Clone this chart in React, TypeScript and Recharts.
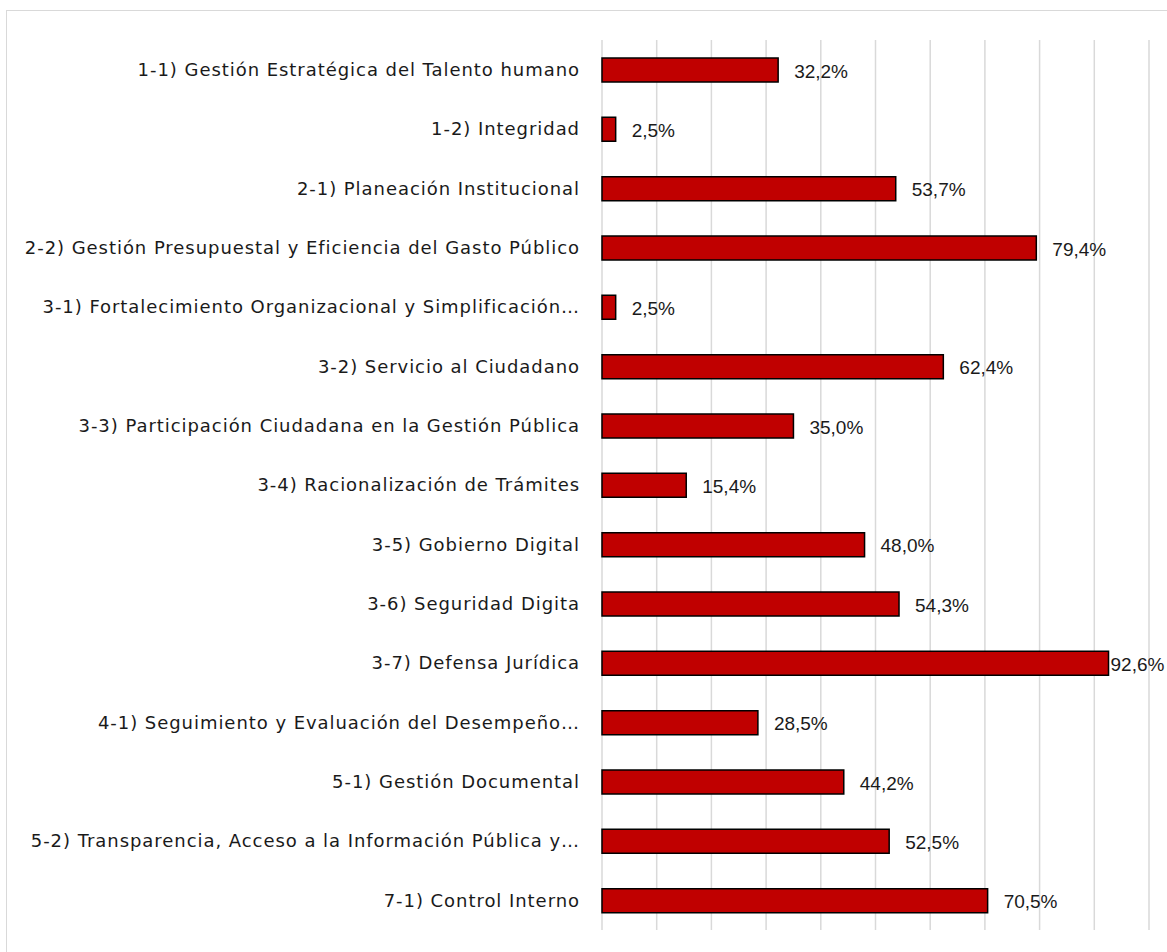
import React from 'react';
import { BarChart, Bar, XAxis, YAxis, CartesianGrid, LabelList } from 'recharts';

const categories = [
  '1-1) Gestión Estratégica del Talento humano',
  '1-2) Integridad',
  '2-1) Planeación Institucional',
  '2-2) Gestión Presupuestal y Eficiencia del Gasto Público',
  '3-1) Fortalecimiento Organizacional y Simplificación…',
  '3-2) Servicio al Ciudadano',
  '3-3) Participación Ciudadana en la Gestión Pública',
  '3-4) Racionalización de Trámites',
  '3-5) Gobierno Digital',
  '3-6) Seguridad Digita',
  '3-7) Defensa Jurídica',
  '4-1) Seguimiento y Evaluación del Desempeño…',
  '5-1) Gestión Documental',
  '5-2) Transparencia, Acceso a la Información Pública y…',
  '7-1) Control Interno',
];

const values = [32.2, 2.5, 53.7, 79.4, 2.5, 62.4, 35.0, 15.4, 48.0, 54.3, 92.6, 28.5, 44.2, 52.5, 70.5];

const xTicks = [0, 10, 20, 30, 40, 50, 60, 70, 80, 90, 100];

const data = categories.map((name, i) => ({ name, value: values[i] }));

const W = 1167;
const H = 952;
const CAT_FONT = '"DejaVu Sans", sans-serif';
const VAL_FONT = '"Liberation Sans", Arial, sans-serif';

const fmt = (v: number) => v.toFixed(1).replace('.', ',') + '%';

// label right of the bar; pulled in close when it would run off the edge (as in the original)
// eslint-disable-next-line @typescript-eslint/no-explicit-any
const ValueLabel = (props: any) => {
  const { x, y, width, height, value } = props;
  const end = Number(x) + Number(width);
  let tx = end + 16;
  if (tx + 56 > W) tx = end + 2;
  return (
    <text x={tx} y={Number(y) + Number(height) / 2 + 1} fontSize={19} fill="#1a1a1a" fontFamily={VAL_FONT} dominantBaseline="central">
      {fmt(Number(value))}
    </text>
  );
};

export default function App() {
  return (
    <div style={{ position: 'absolute', left: 0, top: 0, width: W, height: H, background: '#fff', overflow: 'hidden' }}>
      <div style={{ position: 'absolute', left: 6, top: 10, width: W, height: H, border: '1.5px solid #d9d9d9', boxSizing: 'border-box' }} />
      <BarChart
        width={W}
        height={H}
        data={data}
        layout="vertical"
        margin={{ top: 40, right: 18, bottom: 22, left: 0 }}
        style={{ position: 'absolute', left: 0, top: 0 }}
      >
        <CartesianGrid horizontal={false} stroke="#d9d9d9" strokeWidth={1.5} />
        <XAxis type="number" domain={[0, 100]} ticks={xTicks} hide />
        <YAxis
          type="category"
          dataKey="name"
          width={602}
          axisLine={false}
          tickLine={false}
          tickMargin={16}
          interval={0}
          tick={{ fontSize: 18, fill: '#1a1a1a', fontFamily: CAT_FONT, letterSpacing: 0.95 }}
        />
        <Bar dataKey="value" fill="#C00000" stroke="#000" strokeWidth={1.5} barSize={24} isAnimationActive={false}>
          <LabelList dataKey="value" content={<ValueLabel />} />
        </Bar>
      </BarChart>
    </div>
  );
}
